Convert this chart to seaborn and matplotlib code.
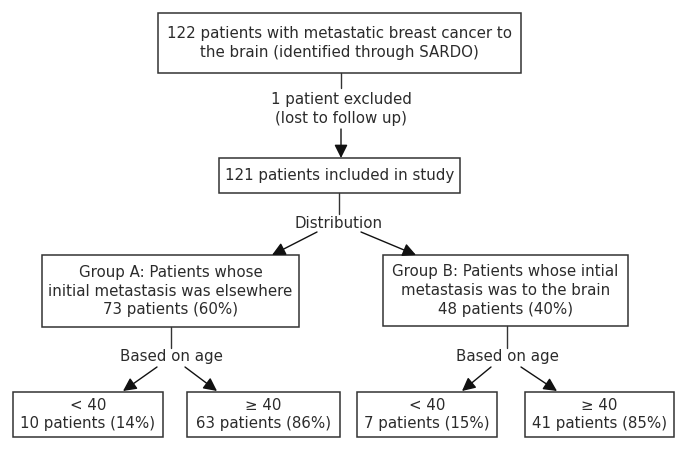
import matplotlib
matplotlib.use("Agg")
import matplotlib.pyplot as plt
import matplotlib.patches as mpatches
import seaborn as sns

# study numbers
total_patients = 122
excluded = 1
included = 121
group_names = ["Group A: Patients whose\ninitial metastasis was elsewhere",
               "Group B: Patients whose intial\nmetastasis was to the brain"]
group_counts = [73, 48]
group_pcts = [60, 40]
age_labels = ["< 40", "\u2265 40"]
age_counts = [[10, 63], [7, 41]]
age_pcts = [[14, 86], [15, 85]]

sns.set_theme(style="white")
plt.rcParams["font.family"] = ["DejaVu Sans"]

fig = plt.figure(figsize=(6.88, 4.51), dpi=100)
ax = fig.add_axes([0, 0, 1, 1])
ax.set_xlim(0, 688)
ax.set_ylim(451, 0)
ax.axis("off")

LC = "#333333"
TC = "#2b2b2b"
FS = 10.8
LS = 1.32


def box(x0, y0, x1, y1, text):
    ax.add_patch(mpatches.Rectangle((x0, y0), x1 - x0, y1 - y0, fill=False,
                                    edgecolor=LC, lw=1.1))
    ax.text((x0 + x1) / 2, (y0 + y1) / 2, text, ha="center", va="center",
            fontsize=FS, color=TC, linespacing=LS)


def arrow(x0, y0, x1, y1):
    ax.annotate("", xy=(x1, y1), xytext=(x0, y0),
                arrowprops=dict(arrowstyle="-|>", color="#111111", lw=1.0,
                                mutation_scale=20, shrinkA=0, shrinkB=0))


def line(x0, y0, x1, y1):
    ax.plot([x0, x1], [y0, y1], color=LC, lw=1.0)


# top part
box(158, 13, 521, 73,
    f"{total_patients} patients with metastatic breast cancer to\n"
    "the brain (identified through SARDO)")
line(341, 73, 341, 88)
ax.text(341, 109, f"{excluded} patient excluded\n(lost to follow up)",
        ha="center", va="center", fontsize=FS, color=TC, linespacing=LS)
arrow(341, 129, 341, 158)
box(219, 158, 460, 193, f"{included} patients included in study")

line(339, 193, 339, 214)
ax.text(339, 223, "Distribution", ha="center", va="center", fontsize=FS,
        color=TC)
arrow(317, 232, 272, 255)
arrow(361, 232, 416, 255)

# groups
group_boxes = [(42, 255, 299, 327), (383, 255, 628, 326)]
sub_boxes = [[(13, 392, 163, 437), (187, 392, 340, 437)],
             [(357, 392, 497, 437), (525, 392, 674, 437)]]
branch = [(171, 157, 185, 123, 217), (507, 491, 521, 462, 557)]

for i in range(2):
    x0, y0, x1, y1 = group_boxes[i]
    box(x0, y0, x1, y1,
        f"{group_names[i]}\n{group_counts[i]} patients ({group_pcts[i]}%)")
    cx, lx, rx, ltx, rtx = branch[i]
    line(cx, y1, cx, 348)
    ax.text(cx, 357, "Based on age", ha="center", va="center", fontsize=FS,
            color=TC)
    arrow(lx, 367, ltx, 391)
    arrow(rx, 367, rtx, 391)
    for j in range(2):
        bx0, by0, bx1, by1 = sub_boxes[i][j]
        box(bx0, by0, bx1, by1,
            f"{age_labels[j]}\n{age_counts[i][j]} patients ({age_pcts[i][j]}%)")

fig.savefig("out.png", dpi=100, facecolor="white")
